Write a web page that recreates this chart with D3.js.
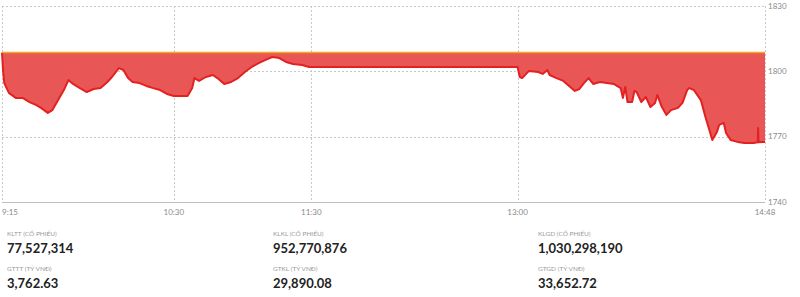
<!DOCTYPE html>
<html>
<head>
<meta charset="utf-8">
<script src="https://cdn.jsdelivr.net/npm/d3@7"></script>
<style>
  html, body { margin: 0; padding: 0; background: #fff; }
  svg { display: block; }
</style>
</head>
<body>
<svg id="chart" width="800" height="297"></svg>
<script>
// index intraday values (time, value)
const times = [
  "09:15:00","09:15:30","09:16:00","09:18:00","09:21:00","09:24:00","09:27:00","09:30:00","09:32:00","09:35:00",
  "09:37:00","09:39:00","09:42:00","09:44:00","09:46:00","09:49:00","09:52:00","09:55:00","09:58:00","10:01:00",
  "10:03:00","10:06:00","10:08:00","10:10:00","10:12:00","10:15:00","10:18:00","10:21:00","10:24:00","10:27:00",
  "10:30:00","10:36:00","10:38:00","10:39:00","10:41:00","10:44:00","10:47:00","10:49:00","10:52:00","10:55:00",
  "10:58:00","11:01:00","11:04:00","11:07:00","11:11:00","11:13:00","11:16:00","11:19:00","11:22:00","11:26:00",
  "11:29:00","11:30:00","13:00:00","13:01:00","13:02:00","13:05:00","13:09:00","13:11:00","13:13:00","13:14:00",
  "13:17:00","13:20:00","13:23:00","13:25:00","13:27:00","13:29:00","13:31:00","13:33:00","13:36:00","13:39:00",
  "13:42:00","13:45:00","13:46:00","13:47:00","13:48:00","13:50:00","13:51:00","13:52:00","13:54:00","13:56:00",
  "13:58:00","14:00:00","14:01:00","14:03:00","14:05:00","14:07:00","14:10:00","14:12:00","14:14:00","14:15:00",
  "14:17:00","14:20:00","14:22:00","14:24:00","14:25:00","14:27:00","14:28:00","14:30:00","14:31:00","14:33:00",
  "14:36:00","14:39:00","14:43:00","14:44:50","14:45:00","14:45:10","14:47:00","14:48:00"
];
const values = [
  1808.6,1799.7,1794.6,1790.1,1787.8,1787.8,1785.9,1784.5,1783.2,1780.9,
  1782.2,1785.9,1791.4,1796.0,1794.2,1792.3,1790.5,1791.9,1792.3,1795.1,
  1797.4,1801.5,1800.6,1796.9,1795.1,1794.6,1793.3,1792.3,1791.4,1789.6,
  1788.7,1788.7,1792.3,1796.9,1795.6,1797.4,1798.3,1796.9,1794.2,1795.1,
  1796.9,1799.7,1802.0,1803.8,1805.7,1806.6,1806.1,1804.3,1803.4,1802.9,
  1802.0,1802.0,1802.0,1797.4,1796.9,1800.2,1799.7,1798.8,1800.6,1798.3,
  1796.9,1795.6,1792.8,1791.0,1791.9,1794.6,1796.9,1794.2,1795.1,1794.6,
  1794.2,1792.3,1787.8,1792.8,1785.9,1785.9,1791.0,1790.5,1785.9,1788.2,
  1783.6,1785.5,1789.1,1783.6,1780.0,1782.2,1783.2,1785.5,1791.4,1792.3,
  1791.4,1786.8,1779.0,1772.1,1768.5,1772.1,1775.4,1776.3,1771.7,1768.5,
  1767.6,1767.1,1767.1,1767.4,1774.0,1767.4,1767.6,1767.6
];
const refValue = 1808.6;
const xTicks = ["09:15","10:30","11:30","13:00","14:48"];
const yTicks = [1740, 1770, 1800, 1830];

const statLabels = ["KLTT (CỔ PHIẾU)", "KLKL (CỔ PHIẾU)", "KLGD (CỔ PHIẾU)",
                    "GTTT (TỶ VNĐ)", "GTKL (TỶ VNĐ)", "GTGD (TỶ VNĐ)"];
const statValues = ["77,527,314", "952,770,876", "1,030,298,190",
                    "3,762.63", "29,890.08", "33,652.72"];

const parse = d3.timeParse("%H:%M:%S");
const parseTick = d3.timeParse("%H:%M");
const data = times.map((t, i) => ({t: parse(t), v: values[i]}));

const svg = d3.select("#chart");
const margin = {top: 6, right: 35, bottom: 95, left: 2};
const width = 800, height = 297;

const x = d3.scaleTime()
    .domain([parseTick("09:15"), parseTick("14:48")])
    .range([margin.left, width - margin.right]);
const y = d3.scaleLinear()
    .domain([1740, 1830])
    .range([height - margin.bottom - 0.5 + 0.5 - 0, margin.top]);
y.range([202, 6]);

const grid = svg.append("g")
    .attr("stroke", "#c8c8c8")
    .attr("stroke-width", 1)
    .attr("stroke-dasharray", "2,2");

// horizontal grid
grid.selectAll("line.h")
    .data(yTicks.filter(d => d !== 1740))
    .join("line")
    .attr("class", "h")
    .attr("x1", x.range()[0]).attr("x2", x.range()[1])
    .attr("y1", d => Math.round(y(d)) + 0.5).attr("y2", d => Math.round(y(d)) + 0.5);

// vertical grid
grid.selectAll("line.v")
    .data(xTicks)
    .join("line")
    .attr("class", "v")
    .attr("x1", d => Math.round(x(parseTick(d))) + 0.5).attr("x2", d => Math.round(x(parseTick(d))) + 0.5)
    .attr("y1", y(1830)).attr("y2", y(1740));

// area between reference and index
const area = d3.area()
    .x(d => x(d.t))
    .y0(y(refValue))
    .y1(d => y(d.v));
svg.append("path")
    .datum(data)
    .attr("fill", "#e85656")
    .attr("d", area);

const line = d3.line()
    .x(d => x(d.t))
    .y(d => y(d.v));
svg.append("path")
    .datum(data)
    .attr("fill", "none")
    .attr("stroke", "#e52020")
    .attr("stroke-width", 2)
    .attr("stroke-linejoin", "round")
    .attr("d", line);

// reference line
svg.append("line")
    .attr("x1", x.range()[0]).attr("x2", x.range()[1])
    .attr("y1", y(refValue)).attr("y2", y(refValue))
    .attr("stroke", "#f0a81c")
    .attr("stroke-width", 1.5);

// bottom axis line
svg.append("line")
    .attr("x1", x.range()[0]).attr("x2", x.range()[1])
    .attr("y1", Math.round(y(1740)) + 0.5).attr("y2", Math.round(y(1740)) + 0.5)
    .attr("stroke", "#bdbdbd");

const axisFont = "Lato, 'Open Sans', sans-serif";

// x labels
svg.append("g")
    .selectAll("text")
    .data(xTicks)
    .join("text")
    .attr("x", (d, i) => i === 0 ? x(parseTick(d)) : x(parseTick(d)))
    .attr("y", 215)
    .attr("text-anchor", (d, i) => i === 0 ? "start" : "middle")
    .attr("fill", "#8a8a8a")
    .style("font", `8px ${axisFont}`)
    .text(d => d.replace(/^0/, ""));

// y labels on right
svg.append("g")
    .selectAll("text")
    .data(yTicks)
    .join("text")
    .attr("x", 768)
    .attr("y", d => y(d))
    .attr("dy", "0.35em")
    .attr("fill", "#8a8a8a")
    .style("font", `8px ${axisFont}`)
    .text(d => d);

// stats block
const colX = [7, 273, 538];
const stats = svg.append("g");
statLabels.forEach((lab, i) => {
    const col = i % 3, row = Math.floor(i / 3);
    const by = row === 0 ? 236 : 271;
    stats.append("text")
        .attr("x", colX[col]).attr("y", by)
        .attr("fill", "#9a9a9a")
        .style("font", `6.5px ${axisFont}`)
        .text(lab);
    stats.append("text")
        .attr("x", colX[col]).attr("y", by + 17)
        .attr("fill", "#222")
        .style("font", `bold 13px ${axisFont}`)
        .text(statValues[i]);
});
</script>
</body>
</html>
